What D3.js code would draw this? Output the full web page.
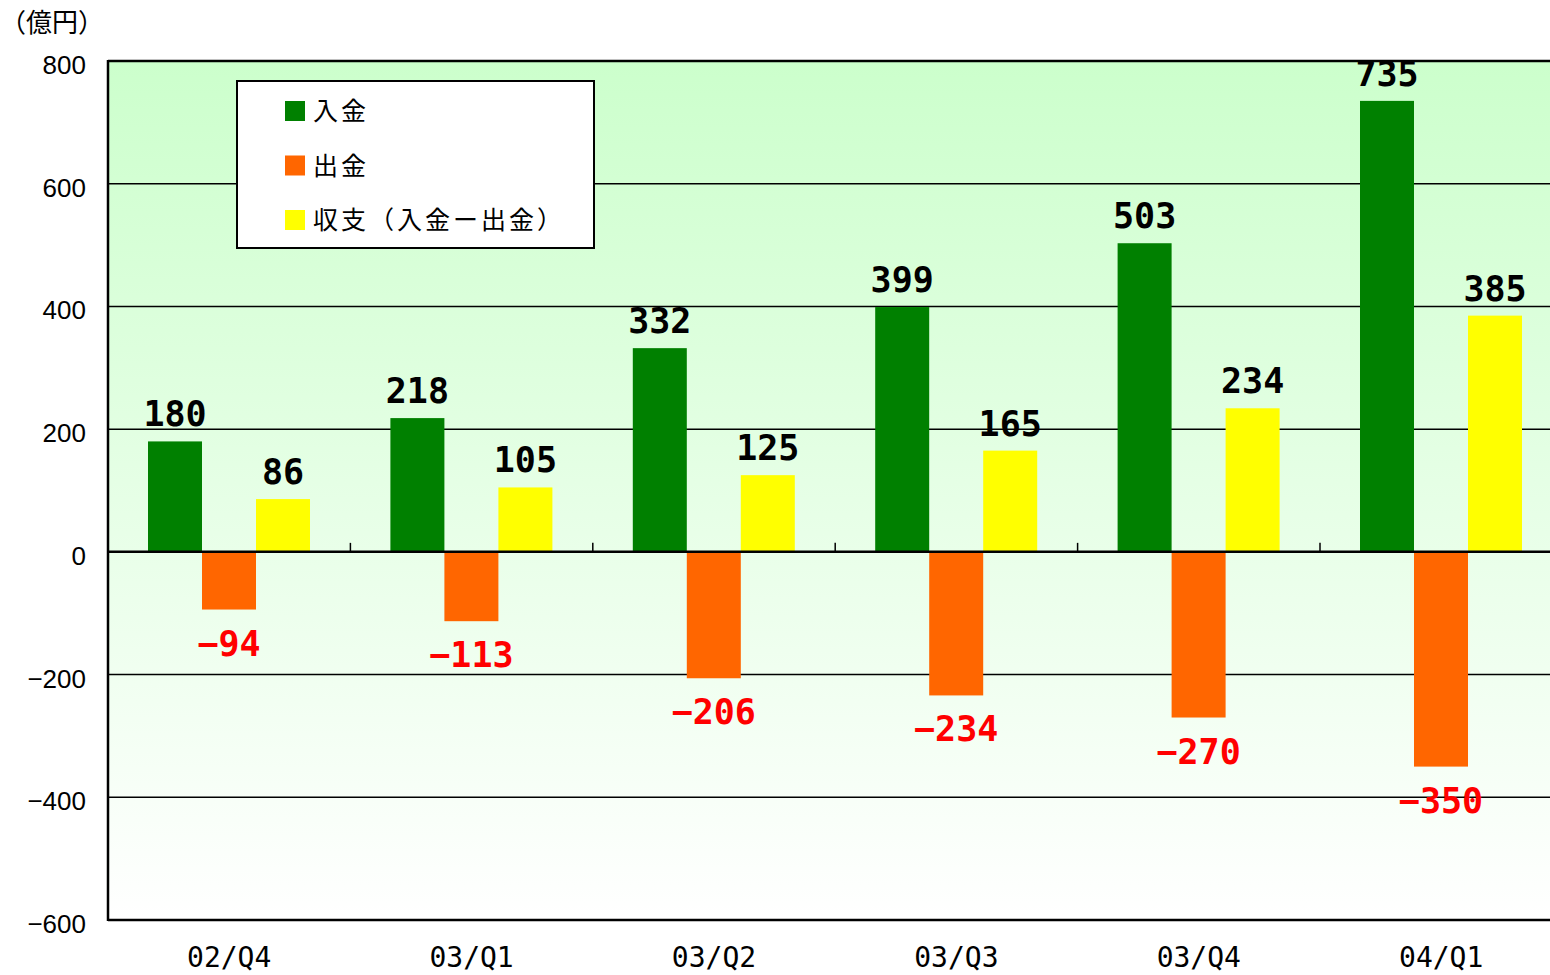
<!DOCTYPE html>
<html>
<head>
<meta charset="utf-8">
<script src="https://cdn.jsdelivr.net/npm/d3@7"></script>
<style>
  body { margin: 0; background: #fff; }
  .val { font-family: "DejaVu Sans Mono", monospace; font-weight: bold; font-size: 35px; }
  .ytick { font-family: "Liberation Sans", Arial, sans-serif; font-size: 26px; }
  .xtick { font-family: "DejaVu Sans Mono", monospace; font-size: 28px; }
  .jp { font-family: "Noto Sans CJK JP", sans-serif; }
</style>
</head>
<body>
<svg id="chart" width="1550" height="975"></svg>
<script>
// data
var quarters = ["02/Q4", "03/Q1", "03/Q2", "03/Q3", "03/Q4", "04/Q1"];
var deposits = [180, 218, 332, 399, 503, 735];          // 入金
var withdrawals = [-94, -113, -206, -234, -270, -350];  // 出金
var balance = [86, 105, 125, 165, 234, 385];            // 収支
var seriesNames = ["入金", "出金", "収支（入金ー出金）"];
var seriesColors = ["#008000", "#ff6600", "#ffff00"];
var yTicks = [-600, -400, -200, 0, 200, 400, 600, 800];

var svg = d3.select("#chart");
// note: "top" is taken by window.top, so plot edges get their own names
var plotLeft = 108, plotTop = 61, plotBottom = 920, bandW = 242.4;

var x = d3.scaleBand().domain(quarters).range([plotLeft, plotLeft + bandW * quarters.length]).padding(0);
var xs = d3.scaleBand().domain([0, 1, 2]).range([40, 202]).padding(0);
var y = d3.scaleLinear().domain([-600, 800]).range([plotBottom, plotTop]);

function signed(d) { return d < 0 ? "\u2212" + Math.abs(d) : "" + d; }

// background gradient
var grad = svg.append("defs").append("linearGradient")
  .attr("id", "bg").attr("x1", 0).attr("y1", 0).attr("x2", 0).attr("y2", 1);
grad.append("stop").attr("offset", "0%").attr("stop-color", "#ccffcc");
grad.append("stop").attr("offset", "100%").attr("stop-color", "#ffffff");

svg.append("rect")
  .attr("x", plotLeft).attr("y", plotTop)
  .attr("width", x.range()[1] - plotLeft).attr("height", plotBottom - plotTop)
  .attr("fill", "url(#bg)");

// gridlines
svg.selectAll(".grid").data(yTicks.filter(function(d){ return d !== 0; }))
  .enter().append("line")
  .attr("x1", plotLeft).attr("x2", x.range()[1])
  .attr("y1", function(d){ return y(d); }).attr("y2", function(d){ return y(d); })
  .style("stroke", "#000").style("stroke-width", function(d){ return (d === 800 || d === -600) ? 2.5 : 1.5; });

// y tick labels
svg.selectAll(".ytick").data(yTicks).enter().append("text")
  .attr("class", "ytick")
  .attr("x", 86).attr("y", function(d){ return y(d) + 13; })
  .attr("text-anchor", "end")
  .text(signed);

svg.append("text").attr("class", "jp")
  .attr("x", 0).attr("y", 32).style("font-size", "26px")
  .text("（億円）");

// bars
var series = [deposits, withdrawals, balance];
series.forEach(function(vals, si) {
  svg.selectAll(".bar" + si).data(vals).enter().append("rect")
    .attr("x", function(d, i){ return x(quarters[i]) + xs(si); })
    .attr("width", xs.bandwidth())
    .attr("y", function(d){ return y(Math.max(0, d)); })
    .attr("height", function(d){ return Math.abs(y(d) - y(0)); })
    .attr("fill", seriesColors[si]);

  svg.selectAll(".lab" + si).data(vals).enter().append("text")
    .attr("class", "val")
    .attr("x", function(d, i){ return x(quarters[i]) + xs(si) + xs.bandwidth() / 2; })
    .attr("y", function(d){ return d >= 0 ? y(d) - 15 : y(d) + 46; })
    .attr("text-anchor", "middle")
    .attr("fill", function(d){ return d >= 0 ? "#000" : "#ff0000"; })
    .text(signed);
});

// zero line + category ticks
svg.append("line")
  .attr("x1", plotLeft).attr("x2", x.range()[1])
  .attr("y1", y(0)).attr("y2", y(0))
  .style("stroke", "#000").style("stroke-width", 2.5);

svg.selectAll(".ctick").data(quarters.slice(1)).enter().append("line")
  .attr("x1", function(d){ return x(d); }).attr("x2", function(d){ return x(d); })
  .attr("y1", y(0) - 9).attr("y2", y(0))
  .style("stroke", "#000").style("stroke-width", 1.5);

// left axis line
svg.append("line")
  .attr("x1", plotLeft).attr("x2", plotLeft).attr("y1", plotTop - 1).attr("y2", plotBottom + 1)
  .style("stroke", "#000").style("stroke-width", 2.5);

// x labels
svg.selectAll(".xtick").data(quarters).enter().append("text")
  .attr("class", "xtick")
  .attr("x", function(d){ return x(d) + x.bandwidth() / 2; })
  .attr("y", 967)
  .attr("text-anchor", "middle")
  .text(function(d){ return d; });

// legend
var legend = svg.append("g");
legend.append("rect")
  .attr("x", 237).attr("y", 81).attr("width", 357).attr("height", 167)
  .attr("fill", "#fff").style("stroke", "#000").style("stroke-width", 2);
seriesNames.forEach(function(name, i) {
  var cy = 111 + i * 54.5;
  legend.append("rect")
    .attr("x", 285).attr("y", cy - 10).attr("width", 20).attr("height", 20)
    .attr("fill", seriesColors[i]);
  legend.append("text").attr("class", "jp")
    .attr("x", 313).attr("y", cy + 9)
    .style("font-size", "25px").style("letter-spacing", "3px")
    .text(name);
});
</script>
</body>
</html>
